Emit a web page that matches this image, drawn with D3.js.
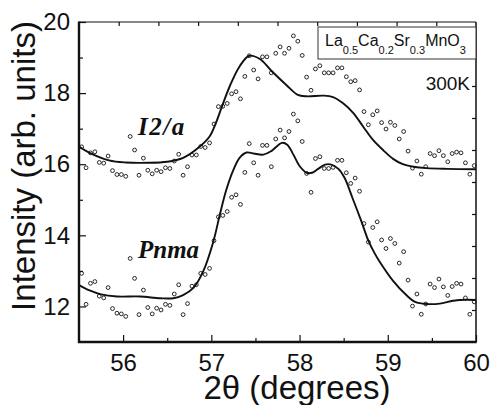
<!DOCTYPE html>
<html>
<head>
<meta charset="utf-8">
<script src="https://cdn.jsdelivr.net/npm/d3@7/dist/d3.min.js"></script>
<style>
  body { margin: 0; background: #fff; }
  svg { display: block; font-family: "Liberation Sans", Arial, sans-serif; }
  .tick text { font-size: 24px; fill: #111; }
  .tick line { stroke: #111; stroke-width: 1.2; }
</style>
</head>
<body>
<div id="chart"></div>
<script>
(function() {
  'use strict';

  var width = 490, height = 405;
  var margin = { top: 22, right: 14, bottom: 62, left: 79 };

  // 2theta grid of the measured points (degrees)
  var angle = [
    55.53, 55.58, 55.63, 55.68, 55.73, 55.78, 55.83, 55.88, 55.93, 55.98,
    56.03, 56.08, 56.13, 56.18, 56.23, 56.28, 56.33, 56.38, 56.43, 56.48,
    56.53, 56.58, 56.63, 56.68, 56.73, 56.78, 56.83, 56.88, 56.93, 56.98,
    57.03, 57.08, 57.13, 57.18, 57.23, 57.28, 57.33, 57.38, 57.43, 57.48,
    57.53, 57.58, 57.63, 57.68, 57.73, 57.78, 57.83, 57.88, 57.93, 57.98,
    58.03, 58.08, 58.13, 58.18, 58.23, 58.28, 58.33, 58.38, 58.43, 58.48,
    58.53, 58.58, 58.63, 58.68, 58.73, 58.78, 58.83, 58.88, 58.93, 58.98,
    59.03, 59.08, 59.13, 59.18, 59.23, 59.28, 59.33, 59.38, 59.43, 59.48,
    59.53, 59.58, 59.63, 59.68, 59.73, 59.78, 59.83, 59.88, 59.93, 59.98
  ];

  // measured intensity, I2/a panel (upper)
  var i2aObs = [
    16.49, 15.90, 16.32, 16.35, 16.05, 16.03, 16.23, 15.82, 15.71, 15.71,
    15.66, 16.78, 16.40, 15.69, 16.17, 15.83, 15.73, 15.83, 15.79, 15.90,
    15.88, 16.09, 16.28, 15.69, 15.93, 16.26, 16.26, 16.50, 16.47, 16.60,
    17.13, 17.62, 17.63, 17.71, 17.98, 18.04, 17.84, 18.47, 19.05, 18.65,
    18.40, 19.02, 19.02, 18.57, 19.12, 19.30, 19.12, 19.26, 19.61, 19.46,
    19.06, 18.45, 18.08, 18.68, 18.77, 18.57, 18.57, 18.57, 18.71, 18.71,
    18.46, 18.32, 18.35, 18.09, 17.48, 17.11, 17.39, 17.50, 17.17, 16.99,
    17.18, 17.09, 16.71, 16.92, 16.37, 15.89, 16.09, 15.72, 15.93, 16.30,
    16.24, 16.38, 16.24, 16.07, 16.30, 16.34, 16.32, 16.04, 15.72, 15.96
  ];

  // measured intensity, Pnma panel (lower)
  var pnmaObs = [
    12.93, 12.06, 12.65, 12.70, 12.29, 12.24, 12.53, 11.94, 11.81, 11.79,
    11.72, 13.35, 12.79, 11.77, 12.46, 11.97, 11.79, 11.95, 11.90, 12.06,
    12.03, 12.35, 12.61, 11.77, 12.08, 12.57, 12.61, 12.93, 12.90, 13.07,
    13.85, 14.52, 14.56, 14.67, 15.07, 15.14, 14.87, 15.77, 16.58, 16.04,
    15.69, 16.53, 16.53, 15.93, 16.71, 16.96, 16.74, 16.92, 17.41, 17.22,
    16.64, 15.74, 15.21, 16.16, 16.21, 15.88, 15.88, 15.91, 16.11, 16.11,
    15.76, 15.46, 15.61, 15.24, 14.33, 13.81, 14.22, 14.38, 13.87, 13.63,
    13.91, 13.77, 13.22, 13.54, 12.74, 12.01, 12.35, 11.78, 12.07, 12.63,
    12.53, 12.77, 12.55, 12.31, 12.56, 12.65, 12.63, 12.24, 11.78, 12.13
  ];

  // fitted profiles
  var i2aFitX = [55.5, 55.62, 55.84, 56.03, 56.28, 56.5, 56.68, 56.87, 56.98, 57.05, 57.12, 57.21, 57.32, 57.43, 57.55, 57.68, 57.85, 57.98, 58.08, 58.27, 58.38, 58.49, 58.61, 58.72, 58.83, 58.95, 59.06, 59.17, 59.29, 59.44, 59.67, 60.0];
  var i2aFitY = [16.5, 16.32, 16.11, 16.05, 16.04, 16.07, 16.18, 16.5, 16.78, 17.15, 17.62, 18.2, 18.75, 19.05, 18.96, 18.63, 18.23, 17.95, 17.91, 17.93, 17.89, 17.72, 17.44, 17.06, 16.69, 16.39, 16.15, 16.0, 15.93, 15.89, 15.87, 15.86];

  var pnmaFitX = [55.5, 55.62, 55.75, 55.93, 56.19, 56.42, 56.57, 56.68, 56.8, 56.91, 57.02, 57.1, 57.17, 57.25, 57.32, 57.4, 57.48, 57.59, 57.68, 57.8, 57.86, 57.93, 58.0, 58.08, 58.14, 58.21, 58.29, 58.36, 58.44, 58.51, 58.6, 58.7, 58.78, 58.85, 58.91, 59.06, 59.21, 59.31, 59.44, 59.59, 59.74, 59.89, 60.0];
  var pnmaFitY = [12.6, 12.45, 12.34, 12.28, 12.28, 12.23, 12.23, 12.32, 12.53, 13.0, 13.8, 14.62, 15.28, 15.84, 16.18, 16.33, 16.3, 16.27, 16.37, 16.6, 16.55, 16.27, 15.95, 15.76, 15.76, 15.87, 15.99, 15.99, 15.87, 15.62, 15.05, 14.4, 13.85, 13.5, 13.25, 12.72, 12.32, 12.13, 12.07, 12.08, 12.16, 12.19, 12.18];

  var xTicks = [56, 57, 58, 59, 60];
  var xMinor = [56.5, 57.5, 58.5, 59.5];
  var yTicks = [12, 14, 16, 18, 20];
  var yMinor = [13, 15, 17, 19];
  var frameTicks = [1, 2, 3, 4, 5, 6, 7, 8, 9];

  var plotW = width - margin.left - margin.right,
    plotH = height - margin.top - margin.bottom - 1;

  var x = d3.scaleLinear().domain([55.5, 60]).range([0, plotW]);
  var y = d3.scaleLinear().domain([11, 20]).range([plotH, 0]);
  // top / right frame ticks divide the frame into ten equal parts
  var xf = d3.scaleLinear().domain([0, 10]).range([0, plotW]);
  var yf = d3.scaleLinear().domain([0, 10]).range([plotH, 0]);

  var svg = d3.select('#chart').append('svg')
    .attr('width', width)
    .attr('height', height);

  var g = svg.append('g')
    .attr('transform', 'translate(' + margin.left + ',' + margin.top + ')');

  // axes
  g.append('g').attr('class', 'x axis')
    .attr('transform', 'translate(0,' + plotH + ')')
    .call(d3.axisBottom(x).tickValues(xTicks).tickSize(-7).tickPadding(12).tickFormat(d3.format('d')));
  g.append('g').attr('class', 'x minor')
    .attr('transform', 'translate(0,' + plotH + ')')
    .call(d3.axisBottom(x).tickValues(xMinor).tickSize(-4).tickFormat(''));
  g.append('g').attr('class', 'y axis')
    .call(d3.axisLeft(y).tickValues(yTicks).tickSize(-7).tickPadding(9).tickFormat(d3.format('d')));
  g.append('g').attr('class', 'y minor')
    .call(d3.axisLeft(y).tickValues(yMinor).tickSize(-4).tickFormat(''));
  g.append('g').attr('class', 'top')
    .call(d3.axisTop(xf).tickValues(frameTicks).tickSize(-4).tickFormat(''));
  g.append('g').attr('class', 'right')
    .attr('transform', 'translate(' + plotW + ',0)')
    .call(d3.axisRight(yf).tickValues(frameTicks).tickSize(-4).tickFormat(''));
  g.selectAll('.domain').remove();

  // frame
  g.append('line').attr('x1', 0).attr('x2', plotW).attr('y1', 0).attr('y2', 0)
    .attr('stroke', '#111').attr('stroke-width', 1);
  g.append('line').attr('x1', plotW).attr('x2', plotW).attr('y1', 0).attr('y2', plotH)
    .attr('stroke', '#111').attr('stroke-width', 1.5);
  g.append('line').attr('x1', 0).attr('x2', 0).attr('y1', -0.5).attr('y2', plotH + 1)
    .attr('stroke', '#111').attr('stroke-width', 2.4);
  g.append('line').attr('x1', -1).attr('x2', plotW + 0.7).attr('y1', plotH).attr('y2', plotH)
    .attr('stroke', '#111').attr('stroke-width', 2.4);

  // fitted curves
  var line = d3.line()
    .x(function(d) { return x(d[0]); })
    .y(function(d) { return y(d[1]); })
    .curve(d3.curveCatmullRom.alpha(0.5));

  [[i2aFitX, i2aFitY], [pnmaFitX, pnmaFitY]].forEach(function(s) {
    g.append('path')
      .datum(d3.zip(s[0], s[1]))
      .attr('fill', 'none')
      .attr('stroke', '#111')
      .attr('stroke-width', 1.9)
      .attr('d', line);
  });

  // measured points
  [i2aObs, pnmaObs].forEach(function(obs) {
    g.append('g').selectAll('circle')
      .data(d3.zip(angle, obs))
      .enter().append('circle')
      .attr('cx', function(d) { return x(d[0]); })
      .attr('cy', function(d) { return y(d[1]); })
      .attr('r', 1.9)
      .attr('fill', 'none')
      .attr('stroke', '#111')
      .attr('stroke-width', 0.9);
  });

  // phase labels
  g.append('text')
    .attr('x', 59).attr('y', 113)
    .attr('font-family', '"Liberation Serif", "Times New Roman", serif')
    .attr('font-weight', 'bold').attr('font-style', 'italic')
    .attr('font-size', 25).attr('letter-spacing', 1.5)
    .attr('fill', '#111')
    .text('I2/a');
  g.append('text')
    .attr('x', 59).attr('y', 236)
    .attr('font-family', '"Liberation Serif", "Times New Roman", serif')
    .attr('font-weight', 'bold').attr('font-style', 'italic')
    .attr('font-size', 25)
    .attr('fill', '#111')
    .text('Pnma');

  // composition box
  g.append('rect')
    .attr('x', 239).attr('y', 5).attr('width', 158).attr('height', 32)
    .attr('fill', '#fff').attr('stroke', '#333').attr('stroke-width', 1);
  var formula = g.append('text')
    .attr('x', 246).attr('y', 24)
    .attr('font-size', 16).attr('fill', '#111');
  [['La', ''], ['0.5', 's'], ['Ca', ''], ['0.2', 's'], ['Sr', ''], ['0.3', 's'], ['MnO', ''], ['3', 's']]
    .forEach(function(p, i, arr) {
      var t = formula.append('tspan').text(p[0]);
      if (p[1] === 's') {
        t.attr('font-size', 11).attr('dy', 8);
      } else if (i > 0) {
        t.attr('dy', -8);
      }
    });

  g.append('text')
    .attr('x', 391).attr('y', 68)
    .attr('text-anchor', 'end')
    .attr('font-size', 19).attr('fill', '#111')
    .text('300K');

  // axis titles
  svg.append('text')
    .attr('transform', 'translate(35,166) rotate(-90)')
    .attr('text-anchor', 'middle')
    .attr('font-size', 33).attr('fill', '#111')
    .text('Intensity (arb. units)');

  svg.append('text')
    .attr('x', 297).attr('y', 399)
    .attr('text-anchor', 'middle')
    .attr('font-size', 33).attr('fill', '#111')
    .text('2\u03B8 (degrees)');
})();
</script>
</body>
</html>
